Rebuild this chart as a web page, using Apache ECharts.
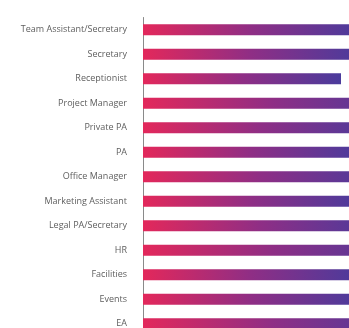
<!DOCTYPE html>
<html>
<head>
<meta charset="utf-8">
<script src="https://cdn.jsdelivr.net/npm/echarts@6/dist/echarts.min.js"></script>
<style>
  html, body { margin: 0; padding: 0; background: #ffffff; overflow: hidden; }
  #chart { width: 443px; height: 340px; }
</style>
</head>
<body>
<div id="chart"></div>
<script>
// Job roles, listed top to bottom
const roles = [
  'Team Assistant/Secretary', 'Secretary', 'Receptionist', 'Project Manager',
  'Private PA', 'PA', 'Office Manager', 'Marketing Assistant',
  'Legal PA/Secretary', 'HR', 'Facilities', 'Events', 'EA'
];
// Share per role (%)
const shares = [72, 72, 66, 86, 78, 72, 78, 72, 78, 86, 72, 72, 86];

const chart = echarts.init(document.getElementById('chart'), null, { renderer: 'canvas' });

const barGradient = new echarts.graphic.LinearGradient(0, 0, 1, 0, [
  { offset: 0, color: '#e3285b' },
  { offset: 0.5, color: '#8f2e85' },
  { offset: 1, color: '#4a3b9c' }
]);

chart.setOption({
  animation: false,
  backgroundColor: '#ffffff',
  grid: { left: 143, top: 17.5, right: 0, bottom: 4, containLabel: false },
  xAxis: {
    type: 'value', min: 0, max: 100, show: false
  },
  yAxis: {
    type: 'category',
    inverse: true,
    data: roles,
    axisLine: { show: true, lineStyle: { color: '#8a8a8a', width: 1 } },
    axisTick: { show: false },
    axisLabel: {
      color: '#5e5e5e', fontSize: 9, fontFamily: 'Open Sans', margin: 16
    }
  },
  series: [{
    type: 'bar',
    data: shares,
    barWidth: 11,
    itemStyle: { color: barGradient }
  }]
});
</script>
</body>
</html>
